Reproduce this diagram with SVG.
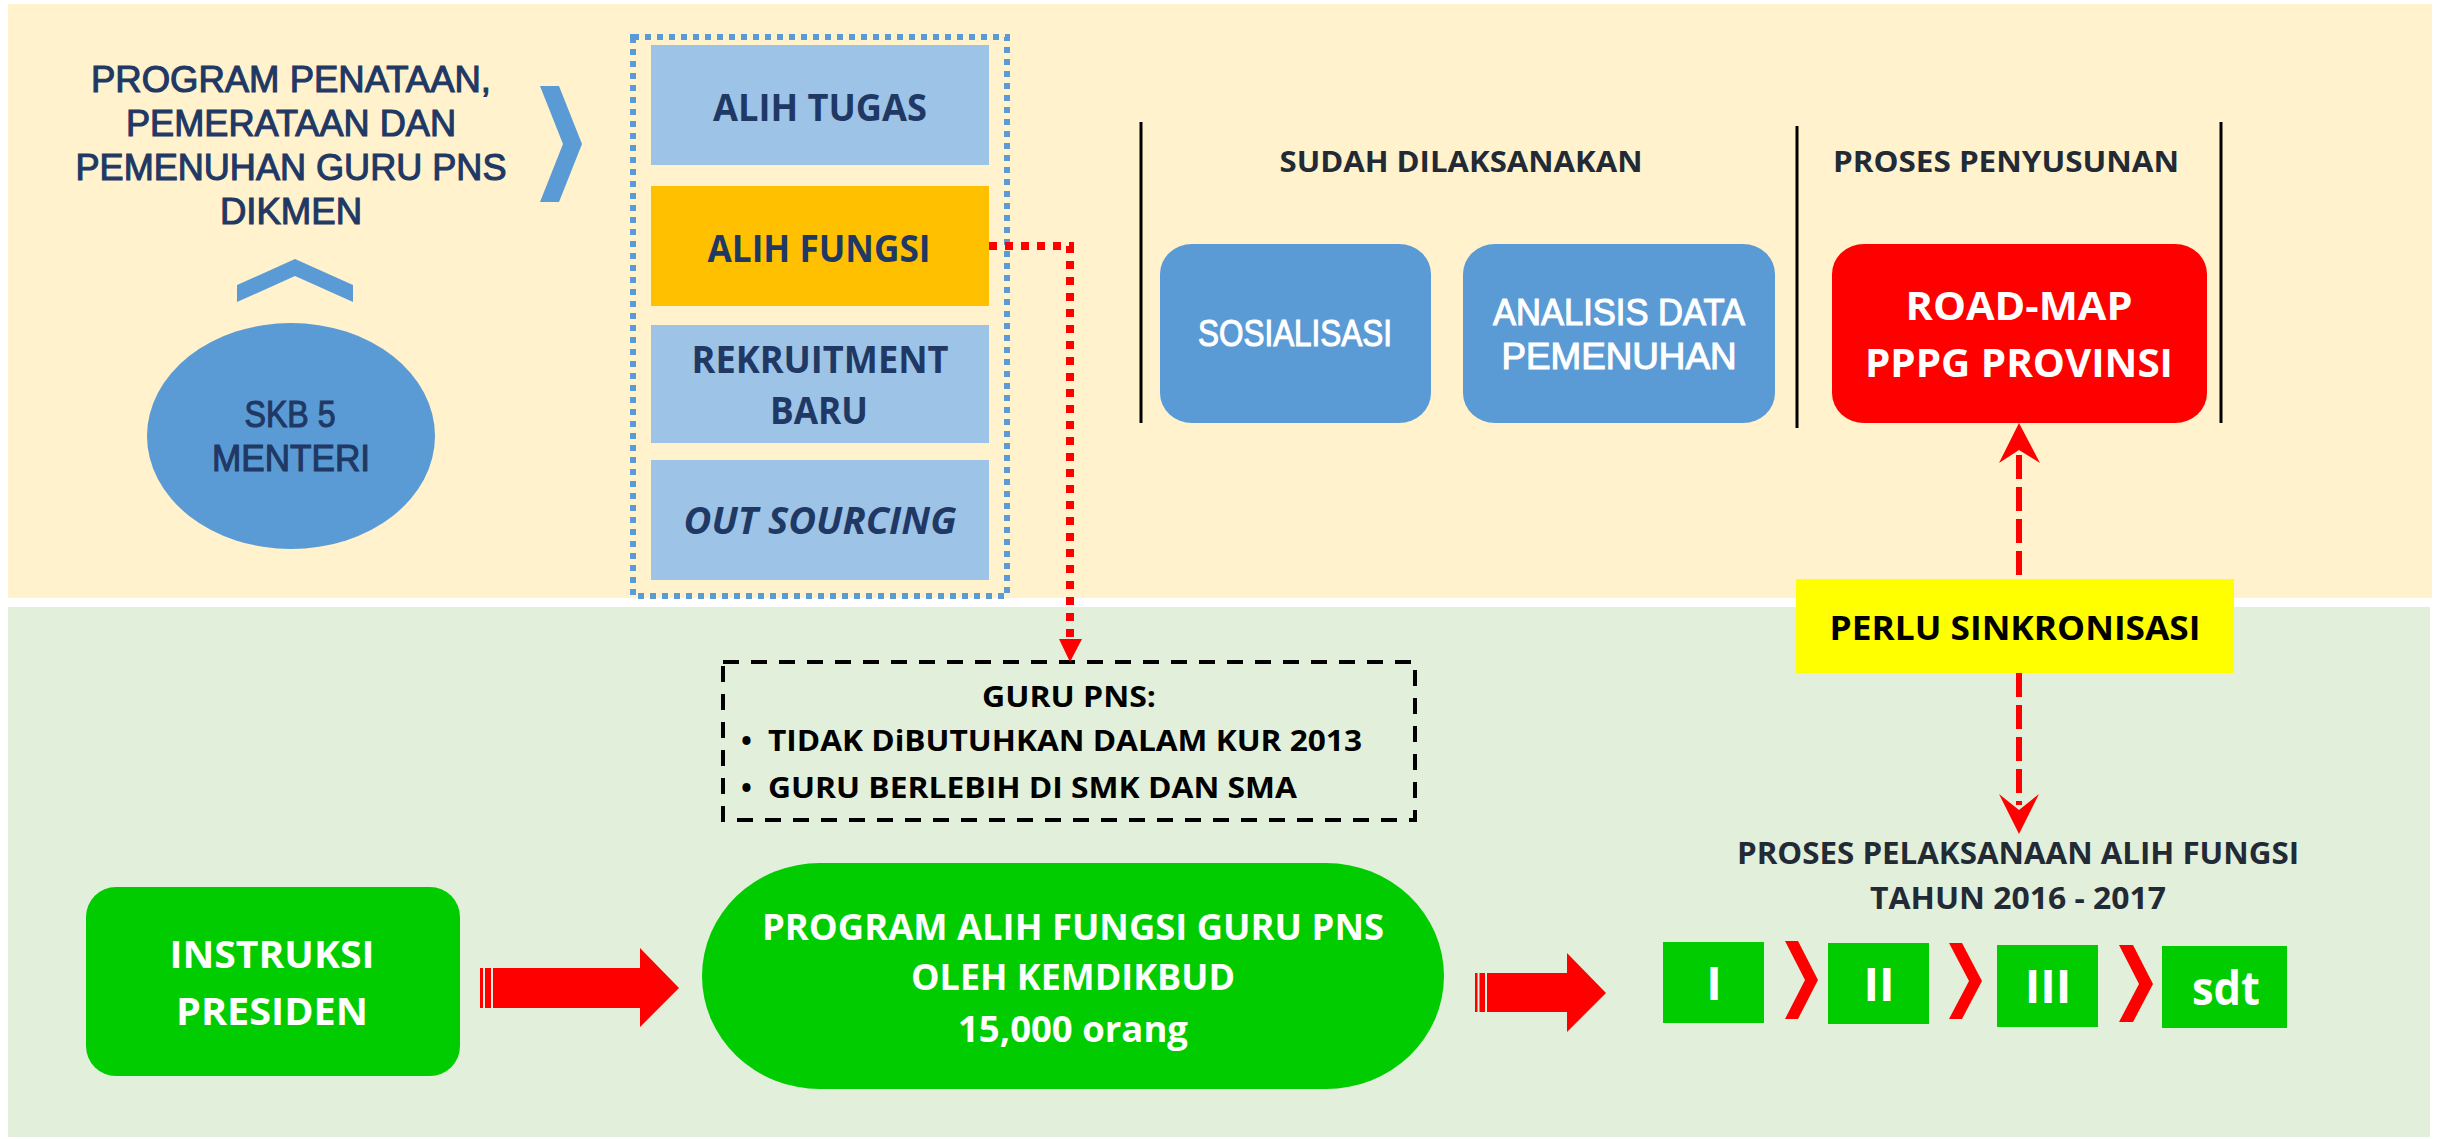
<svg xmlns="http://www.w3.org/2000/svg" width="2440" height="1139" viewBox="0 0 2440 1139">
<defs>
<style>
.cal{font-family:"Open Sans","Liberation Sans",sans-serif;font-weight:bold;}
.tw{font-family:"Liberation Sans","DejaVu Sans",sans-serif;stroke-width:1.1;}
.navy{fill:#1F3864;}
.tw.navy{stroke:#1F3864;}
.tw.wh{stroke:#FFFFFF;}
.dark{fill:#222A35;}
.wh{fill:#FFFFFF;}
.lb{fill:#9DC3E6;}
.blue{fill:#5B9BD5;}
.grn{fill:#00CC00;}
.red{fill:#FF0000;}
.vline{stroke:#000000;stroke-width:3;}
</style>
</defs>
<rect x="0" y="0" width="2440" height="1139" fill="#FFFFFF"/>
<rect x="8" y="4" width="2424" height="594" fill="#FFF2CC"/>
<rect x="8" y="607" width="2422" height="530" fill="#E2EFDA"/>

<g id="title">
<text class="tw navy" font-size="36" text-anchor="middle"><tspan x="291" y="92" textLength="400" lengthAdjust="spacingAndGlyphs">PROGRAM PENATAAN,</tspan><tspan x="291" y="136" textLength="330" lengthAdjust="spacingAndGlyphs">PEMERATAAN DAN</tspan><tspan x="291" y="180" textLength="431" lengthAdjust="spacingAndGlyphs">PEMENUHAN GURU PNS</tspan><tspan x="291" y="224" textLength="142" lengthAdjust="spacingAndGlyphs">DIKMEN</tspan></text>
</g>
<g id="chevron-right-blue"><polygon class="blue" points="540,86 559,86 582,144 559,202 540,202 563,144"/></g>
<g id="chevron-up-blue"><polygon class="blue" points="237,285 295,259 353,285 353,302 295,276 237,302"/></g>
<g id="skb">
<ellipse class="blue" cx="291" cy="436" rx="144" ry="113"/>
<text class="tw navy" font-size="36" text-anchor="middle"><tspan x="290" y="427" textLength="91" lengthAdjust="spacingAndGlyphs">SKB 5</tspan><tspan x="291" y="471" textLength="158" lengthAdjust="spacingAndGlyphs">MENTERI</tspan></text>
</g>

<g id="options">
<rect x="633" y="37" width="374" height="559" fill="none" stroke="#5B9BD5" stroke-width="6" stroke-dasharray="6 6"/>
<g id="alih-tugas"><rect class="lb" x="651" y="45" width="338" height="120"/>
<text class="cal navy" font-size="38" text-anchor="middle" x="820" y="121" textLength="214" lengthAdjust="spacingAndGlyphs">ALIH TUGAS</text></g>
<g id="alih-fungsi"><rect x="651" y="186" width="338" height="120" fill="#FFC000"/>
<text class="cal navy" font-size="38" text-anchor="middle" x="819" y="262" textLength="223" lengthAdjust="spacingAndGlyphs">ALIH FUNGSI</text></g>
<g id="rekruitment"><rect class="lb" x="651" y="325" width="338" height="118"/>
<text class="cal navy" font-size="38" text-anchor="middle"><tspan x="820" y="373" textLength="257" lengthAdjust="spacingAndGlyphs">REKRUITMENT</tspan><tspan x="819" y="424" textLength="98" lengthAdjust="spacingAndGlyphs">BARU</tspan></text></g>
<g id="out-sourcing"><rect class="lb" x="651" y="460" width="338" height="120"/>
<text class="cal navy" font-size="38" font-style="italic" text-anchor="middle" x="820" y="534" textLength="273" lengthAdjust="spacingAndGlyphs">OUT SOURCING</text></g>
</g>

<g id="dividers">
<line class="vline" x1="1141" y1="122" x2="1141" y2="423"/>
<line class="vline" x1="1797" y1="126" x2="1797" y2="428"/>
<line class="vline" x1="2221" y1="122" x2="2221" y2="423"/>
</g>
<g id="headers">
<text class="cal dark" font-size="29" text-anchor="middle" x="1461" y="172" textLength="363" lengthAdjust="spacingAndGlyphs">SUDAH DILAKSANAKAN</text>
<text class="cal dark" font-size="29" text-anchor="middle" x="2006" y="172" textLength="346" lengthAdjust="spacingAndGlyphs">PROSES PENYUSUNAN</text>
</g>
<g id="sosialisasi"><rect class="blue" x="1160" y="244" width="271" height="179" rx="32" ry="30"/>
<text class="tw wh" font-size="36" text-anchor="middle" x="1295" y="346" textLength="194" lengthAdjust="spacingAndGlyphs">SOSIALISASI</text></g>
<g id="analisis"><rect class="blue" x="1463" y="244" width="312" height="179" rx="32" ry="30"/>
<text class="tw wh" font-size="36" text-anchor="middle"><tspan x="1619" y="325" textLength="252" lengthAdjust="spacingAndGlyphs">ANALISIS DATA</tspan><tspan x="1619" y="369" textLength="235" lengthAdjust="spacingAndGlyphs">PEMENUHAN</tspan></text></g>
<g id="roadmap"><rect class="red" x="1832" y="244" width="375" height="179" rx="32" ry="30"/>
<text class="cal wh" font-size="40" text-anchor="middle"><tspan x="2019" y="320" textLength="227" lengthAdjust="spacingAndGlyphs">ROAD-MAP</tspan><tspan x="2019" y="377" textLength="308" lengthAdjust="spacingAndGlyphs">PPPG PROVINSI</tspan></text></g>

<g id="sinkronisasi"><rect x="1796" y="579" width="438" height="94" fill="#FFFF00"/>
<text class="cal" fill="#000000" font-size="34" text-anchor="middle" x="2015" y="640" textLength="371" lengthAdjust="spacingAndGlyphs">PERLU SINKRONISASI</text></g>

<g id="guru-pns">
<rect x="723" y="662" width="692" height="158" fill="none" stroke="#000000" stroke-width="4" stroke-dasharray="16 12"/>
<text class="cal" fill="#000000" font-size="29" text-anchor="middle" x="1069" y="707" textLength="174" lengthAdjust="spacingAndGlyphs">GURU PNS:</text>
<text class="cal" fill="#000000" font-size="29" x="741" y="751">•</text>
<text class="cal" fill="#000000" font-size="29" x="768" y="751" textLength="594" lengthAdjust="spacingAndGlyphs">TIDAK DiBUTUHKAN DALAM KUR 2013</text>
<text class="cal" fill="#000000" font-size="29" x="741" y="798">•</text>
<text class="cal" fill="#000000" font-size="29" x="768" y="798" textLength="529" lengthAdjust="spacingAndGlyphs">GURU BERLEBIH DI SMK DAN SMA</text>
</g>

<g id="instruksi"><rect class="grn" x="86" y="887" width="374" height="189" rx="30" ry="30"/>
<text class="cal wh" font-size="38" text-anchor="middle"><tspan x="272" y="968" textLength="205" lengthAdjust="spacingAndGlyphs">INSTRUKSI</tspan><tspan x="272" y="1025" textLength="192" lengthAdjust="spacingAndGlyphs">PRESIDEN</tspan></text></g>
<g id="program"><rect class="grn" x="702" y="863" width="742" height="226" rx="118" ry="113"/>
<text class="cal wh" font-size="35" text-anchor="middle"><tspan x="1073" y="940" textLength="622" lengthAdjust="spacingAndGlyphs">PROGRAM ALIH FUNGSI GURU PNS</tspan><tspan x="1073" y="990" textLength="324" lengthAdjust="spacingAndGlyphs">OLEH KEMDIKBUD</tspan><tspan x="1073" y="1042" textLength="230" lengthAdjust="spacingAndGlyphs">15,000 orang</tspan></text></g>

<g id="proses-label">
<text class="cal dark" font-size="30" text-anchor="middle"><tspan x="2018" y="864" textLength="562" lengthAdjust="spacingAndGlyphs">PROSES PELAKSANAAN ALIH FUNGSI</tspan><tspan x="2018" y="909" textLength="296" lengthAdjust="spacingAndGlyphs">TAHUN 2016 - 2017</tspan></text>
</g>
<g id="stage-1"><rect class="grn" x="1663" y="942" width="101" height="81"/><text class="cal wh" font-size="47" text-anchor="middle" x="1714" y="1000">I</text></g>
<g id="stage-2"><rect class="grn" x="1828" y="943" width="101" height="81"/><text class="cal wh" font-size="47" text-anchor="middle" x="1879" y="1001">II</text></g>
<g id="stage-3"><rect class="grn" x="1997" y="945" width="101" height="82"/><text class="cal wh" font-size="47" text-anchor="middle" x="2048" y="1003">III</text></g>
<g id="stage-sdt"><rect class="grn" x="2162" y="946" width="125" height="82"/><text class="cal wh" font-size="47" text-anchor="middle" x="2226" y="1005" textLength="68" lengthAdjust="spacingAndGlyphs">sdt</text></g>

<g id="connectors">
<path d="M989,246 H1070 V640" fill="none" stroke="#FF0000" stroke-width="8" stroke-dasharray="8 8"/>
<polygon class="red" points="1059,639 1082,639 1070,662"/>
<line x1="2019" y1="455" x2="2019" y2="579" stroke="#FF0000" stroke-width="6" stroke-dasharray="24 8"/>
<polygon class="red" points="2019,423 2040,463 2019,450 1999,463"/>
<line x1="2019" y1="673" x2="2019" y2="805" stroke="#FF0000" stroke-width="6" stroke-dasharray="24 8"/>
<polygon class="red" points="1999,794 2019,810 2039,794 2019,834"/>
<g id="arrow-1">
<rect class="red" x="480" y="968" width="3" height="40"/>
<rect class="red" x="485" y="968" width="6" height="40"/>
<path class="red" d="M493,968 H640 V948 L679,988 L640,1027 V1008 H493 Z"/>
</g>
<g id="arrow-2">
<rect class="red" x="1475" y="973" width="2.5" height="39"/>
<rect class="red" x="1479.5" y="973" width="5.5" height="39"/>
<path class="red" d="M1487,973 H1567 V953 L1606,993 L1567,1032 V1012 H1487 Z"/>
</g>
<polygon class="red" points="1785,941 1798,941 1818,980 1798,1019 1785,1019 1805,980"/>
<polygon class="red" points="1949,943 1962,943 1982,981 1962,1019 1949,1019 1969,981"/>
<polygon class="red" points="2119,945 2133,945 2153,984 2133,1022 2119,1022 2139,984"/>
</g>
</svg>
